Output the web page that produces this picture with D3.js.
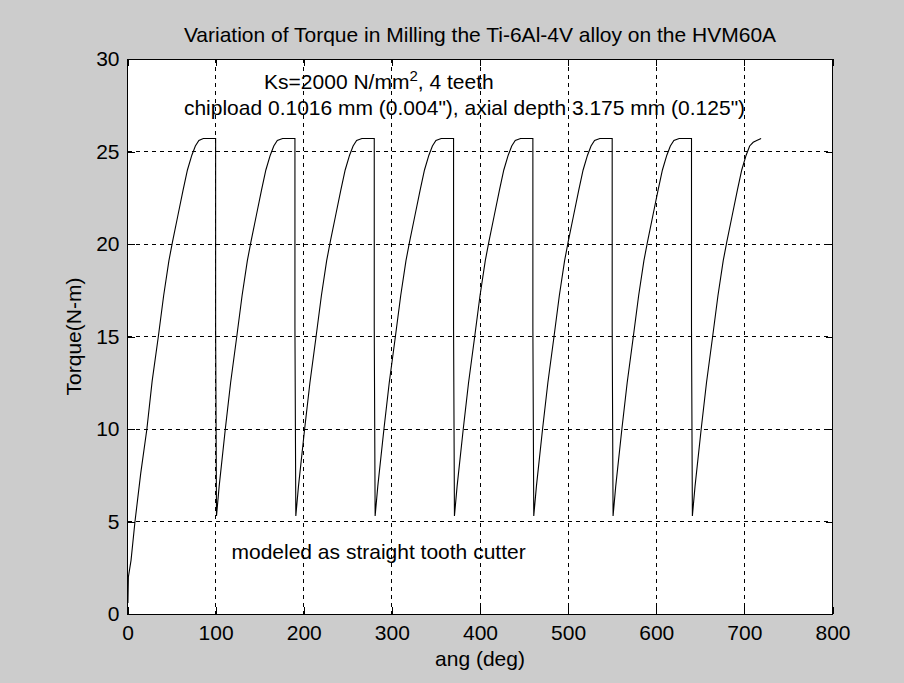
<!DOCTYPE html>
<html>
<head>
<meta charset="utf-8">
<script src="https://cdn.jsdelivr.net/npm/d3@7"></script>
<style>
  html, body { margin: 0; padding: 0; background: #cccccc; }
  svg { display: block; font-family: "Liberation Sans", Arial, sans-serif; }
</style>
</head>
<body>
<div id="wrapper"></div>
<script>
// Torque trace, one line per tooth pass
const angleDeg = [
  0.5, 1, 4, 8.5, 15, 22, 28, 35, 41, 47, 51, 57, 63, 68, 73, 77, 81, 86, 100, 100, 101,
  104, 111, 117, 124, 130, 136, 140, 146, 152, 157, 162, 166, 170, 176, 190, 190, 191,
  194, 201, 207, 214, 220, 226, 230, 236, 242, 247, 252, 256, 260, 266, 280, 280, 281,
  284, 291, 297, 304, 310, 316, 320, 326, 332, 337, 342, 346, 350, 356, 370, 370, 371,
  374, 381, 387, 394, 400, 406, 410, 416, 422, 427, 432, 436, 440, 446, 460, 460, 461,
  464, 471, 477, 484, 490, 496, 500, 506, 512, 517, 522, 526, 530, 536, 550, 550, 551,
  554, 561, 567, 574, 580, 586, 590, 596, 602, 607, 612, 616, 620, 626, 640, 640, 641,
  644, 651, 657, 664, 670, 676, 680, 686, 692, 697, 702, 706, 710, 714, 719
];
const torqueNm = [
  0.6, 2.0, 2.9, 5.0, 7.6, 10.0, 12.6, 15.0, 17.2, 19.1, 20.1, 21.5, 22.9, 24.0, 24.8, 25.3, 25.6, 25.7, 25.7, 15.5, 5.3,
  6.9, 10.0, 12.5, 15.0, 17.2, 19.1, 20.1, 21.5, 22.9, 24.0, 24.8, 25.3, 25.6, 25.7, 25.7, 15.5, 5.3,
  6.9, 10.0, 12.5, 15.0, 17.2, 19.1, 20.1, 21.5, 22.9, 24.0, 24.8, 25.3, 25.6, 25.7, 25.7, 15.5, 5.3,
  6.9, 10.0, 12.5, 15.0, 17.2, 19.1, 20.1, 21.5, 22.9, 24.0, 24.8, 25.3, 25.6, 25.7, 25.7, 15.5, 5.3,
  6.9, 10.0, 12.5, 15.0, 17.2, 19.1, 20.1, 21.5, 22.9, 24.0, 24.8, 25.3, 25.6, 25.7, 25.7, 15.5, 5.3,
  6.9, 10.0, 12.5, 15.0, 17.2, 19.1, 20.1, 21.5, 22.9, 24.0, 24.8, 25.3, 25.6, 25.7, 25.7, 15.5, 5.3,
  6.9, 10.0, 12.5, 15.0, 17.2, 19.1, 20.1, 21.5, 22.9, 24.0, 24.8, 25.3, 25.6, 25.7, 25.7, 15.5, 5.3,
  6.9, 10.0, 12.5, 15.0, 17.2, 19.1, 20.1, 21.5, 22.9, 24.0, 24.8, 25.3, 25.5, 25.6, 25.7
];
const xTicks = [0, 100, 200, 300, 400, 500, 600, 700, 800];
const yTicks = [0, 5, 10, 15, 20, 25, 30];

const titleText = "Variation of Torque in Milling the Ti-6Al-4V alloy on the HVM60A";
const xLabelText = "ang (deg)";
const yLabelText = "Torque(N-m)";

const data = angleDeg.map((a, i) => ({ ang: a, torque: torqueNm[i] }));

const drawChart = () => {
  const dimensions = {
    width: 904,
    height: 683,
    margins: { top: 59, right: 71.5, bottom: 69, left: 127.5 },
  };
  dimensions.boundedWidth =
    dimensions.width - dimensions.margins.left - dimensions.margins.right;
  dimensions.boundedHeight =
    dimensions.height - dimensions.margins.top - dimensions.margins.bottom;

  const fontSize = "21px";

  const wrapper = d3.select("#wrapper")
    .append("svg")
      .attr("width", dimensions.width)
      .attr("height", dimensions.height);

  wrapper.append("rect")
    .attr("width", dimensions.width)
    .attr("height", dimensions.height)
    .attr("fill", "#cccccc");

  const bounds = wrapper.append("g")
    .attr("transform", `translate(${dimensions.margins.left},${dimensions.margins.top})`);

  const xScale = d3.scaleLinear()
    .domain([0, 800])
    .range([0, dimensions.boundedWidth]);
  const yScale = d3.scaleLinear()
    .domain([0, 30])
    .range([dimensions.boundedHeight, 0]);

  // white plot area
  bounds.append("rect")
    .attr("width", dimensions.boundedWidth)
    .attr("height", dimensions.boundedHeight)
    .attr("fill", "white");

  // dashed grid
  const grid = bounds.append("g")
    .attr("stroke", "black")
    .attr("stroke-width", 1)
    .attr("stroke-dasharray", "4,4")
    .attr("shape-rendering", "crispEdges");
  grid.selectAll(".vgrid")
    .data(xTicks.slice(1, -1))
    .join("line")
      .attr("x1", d => xScale(d)).attr("x2", d => xScale(d))
      .attr("y1", 0).attr("y2", dimensions.boundedHeight);
  grid.selectAll(".hgrid")
    .data(yTicks.slice(1, -1))
    .join("line")
      .attr("class", "hgrid")
      .attr("y1", d => yScale(d)).attr("y2", d => yScale(d))
      .attr("x1", 0).attr("x2", dimensions.boundedWidth);

  // torque curve
  const lineGenerator = d3.line()
    .x(d => xScale(d.ang))
    .y(d => yScale(d.torque));
  bounds.append("path")
    .attr("d", lineGenerator(data))
    .attr("fill", "none")
    .attr("stroke", "black")
    .attr("stroke-width", 1.1);

  // axes, ticks pointing inwards on all four sides
  const styleAxis = g => {
    g.select(".domain").remove();
    g.selectAll(".tick line").attr("stroke", "black").attr("shape-rendering", "crispEdges");
    g.selectAll(".tick text")
      .attr("fill", "black")
      .style("font-size", fontSize)
      .style("font-family", '"Liberation Sans", Arial, sans-serif');
  };

  bounds.append("g")
    .attr("transform", `translate(0,${dimensions.boundedHeight})`)
    .call(d3.axisBottom(xScale).tickValues(xTicks).tickSize(-7).tickPadding(11))
    .call(styleAxis);
  bounds.append("g")
    .call(d3.axisTop(xScale).tickValues(xTicks).tickSize(-7).tickFormat(""))
    .call(styleAxis);
  bounds.append("g")
    .call(d3.axisLeft(yScale).tickValues(yTicks).tickSize(-7).tickPadding(8))
    .call(styleAxis);
  bounds.append("g")
    .attr("transform", `translate(${dimensions.boundedWidth},0)`)
    .call(d3.axisRight(yScale).tickValues(yTicks).tickSize(-7).tickFormat(""))
    .call(styleAxis);

  bounds.append("rect")
    .attr("width", dimensions.boundedWidth)
    .attr("height", dimensions.boundedHeight)
    .attr("fill", "none")
    .attr("stroke", "black")
    .attr("stroke-width", 1)
    .attr("shape-rendering", "crispEdges");

  // annotations placed in data units
  const note1 = bounds.append("text")
    .attr("x", xScale(155))
    .attr("y", yScale(28.4))
    .style("font-size", fontSize);
  note1.append("tspan").text("Ks=2000 N/mm");
  note1.append("tspan")
    .attr("baseline-shift", "super")
    .style("font-size", "15px")
    .text("2");
  note1.append("tspan").text(", 4 teeth");

  bounds.append("text")
    .attr("x", xScale(64))
    .attr("y", yScale(27.0))
    .style("font-size", fontSize)
    .text("chipload 0.1016 mm (0.004\"), axial depth 3.175 mm (0.125\")");

  bounds.append("text")
    .attr("x", xScale(118))
    .attr("y", yScale(3.0))
    .style("font-size", fontSize)
    .text("modeled as straight tooth cutter");

  // title and axis labels
  wrapper.append("text")
    .attr("x", dimensions.margins.left + dimensions.boundedWidth / 2)
    .attr("y", 42)
    .attr("text-anchor", "middle")
    .style("font-size", fontSize)
    .text(titleText);

  wrapper.append("text")
    .attr("x", dimensions.margins.left + dimensions.boundedWidth / 2)
    .attr("y", 666)
    .attr("text-anchor", "middle")
    .style("font-size", fontSize)
    .text(xLabelText);

  wrapper.append("text")
    .attr("transform", `translate(81,${dimensions.margins.top + dimensions.boundedHeight / 2}) rotate(-90)`)
    .attr("text-anchor", "middle")
    .style("font-size", fontSize)
    .text(yLabelText);
};

drawChart();
</script>
</body>
</html>
